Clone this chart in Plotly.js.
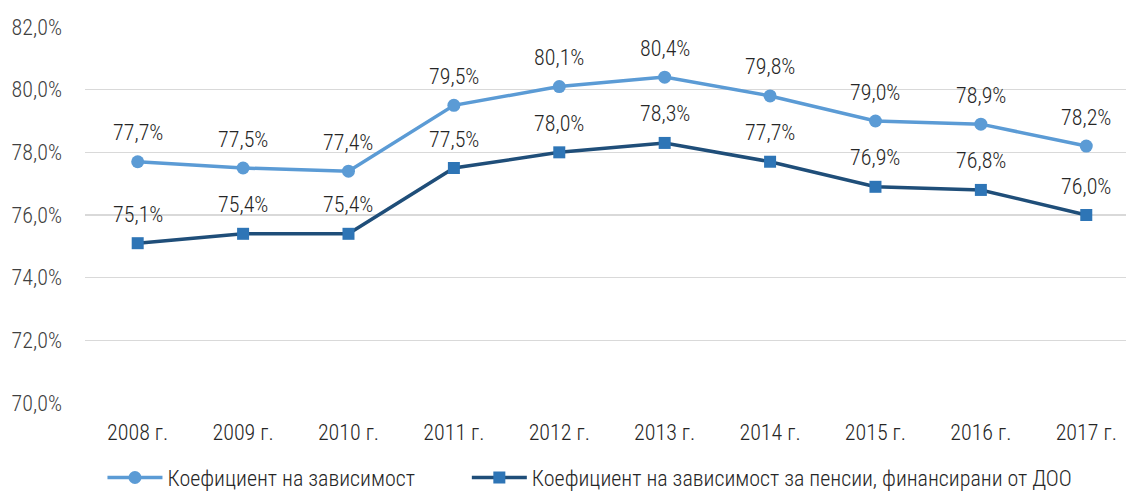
<!DOCTYPE html>
<html><head><meta charset="utf-8">
<script src="https://cdn.plot.ly/plotly-3.0.1.min.js"></script>
<style>html,body{margin:0;padding:0;background:#fff}#c{width:1126px;height:493px}</style>
</head><body><div id="c"></div>
<script>
const years = ["2008 г.","2009 г.","2010 г.","2011 г.","2012 г.","2013 г.","2014 г.","2015 г.","2016 г.","2017 г."];
const seriesNames = ["Коефициент на зависимост","Коефициент на зависимост за пенсии, финансирани от ДОО"];
const dependency = [77.7,77.5,77.4,79.5,80.1,80.4,79.8,79.0,78.9,78.2];
const dependencyDOO = [75.1,75.4,75.4,77.5,78.0,78.3,77.7,76.9,76.8,76.0];
const yTicks = [70,72,74,76,78,80,82];

const FONT = '"Roboto Condensed","Liberation Sans",Arial,sans-serif';
const W = 300;
const fmt = v => v.toFixed(1).replace('.', ',') + '%';

const traces = [
  {x: years, y: dependency, name: seriesNames[0], type:'scatter', mode:'lines+markers', legend:'legend',
   line:{color:'#5B9BD5', width:3.5}, marker:{symbol:'circle', size:13, color:'#5B9BD5'}, cliponaxis:false},
  {x: years, y: dependencyDOO, name: seriesNames[1], type:'scatter', mode:'lines+markers', legend:'legend2',
   line:{color:'#1F4E79', width:3.5}, marker:{symbol:'square', size:12, color:'#2E75B6'}, cliponaxis:false}
];

const annotations = [];
[dependency, dependencyDOO].forEach(arr => arr.forEach((v, i) => {
  annotations.push({x: years[i], y: v, xref:'x', yref:'y', text: fmt(v), showarrow:false,
    yshift: 29, yanchor:'middle', font:{family:FONT, size:22, weight:W, color:'#262626'}});
}));

const legendBase = {orientation:'h', xref:'container', yref:'container', xanchor:'left', yanchor:'middle', y:0.031,
  font:{family:FONT, size:22, weight:W, color:'#262626'}, itemwidth:55, bgcolor:'rgba(0,0,0,0)'};

const layout = {
  width:1126, height:493,
  margin:{l:85, r:0, t:27, b:90},
  paper_bgcolor:'#fff', plot_bgcolor:'#fff',
  separators:',.',
  font:{family:FONT, size:22, weight:W, color:'#404040'},
  showlegend:true,
  legend: Object.assign({}, legendBase, {x:0.091}),
  legend2: Object.assign({}, legendBase, {x:0.4146}),
  annotations: annotations,
  xaxis:{type:'category', range:[-0.5, 9.377], showgrid:false, zeroline:false, showline:false, ticks:'',
         tickfont:{family:FONT, size:22, weight:W, color:'#262626'}, ticklabelstandoff:14},
  yaxis:{range:[70,82], tickvals:yTicks, ticktext:yTicks.map(v=>v.toFixed(1).replace('.',',')+'%'),
         showgrid:true, gridcolor:'#d9d9d9', gridwidth:1.3, zeroline:false, showline:false, ticks:'',
         tickfont:{family:FONT, size:22, weight:W, color:'#404040'}, ticklabelstandoff:22}
};
Plotly.newPlot('c', traces, layout, {displayModeBar:false, staticPlot:true});
</script></body></html>
